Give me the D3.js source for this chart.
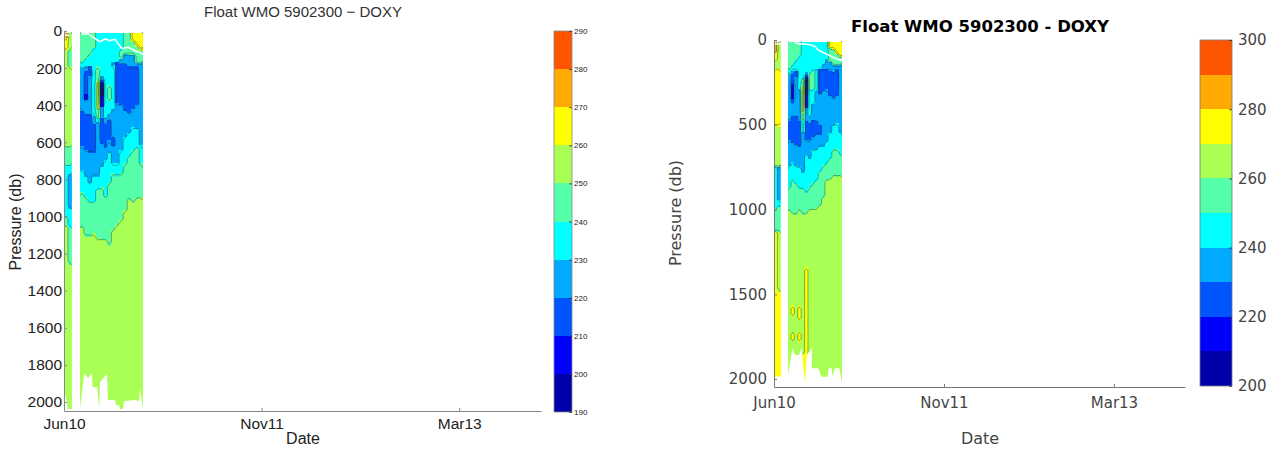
<!DOCTYPE html>
<html><head><meta charset="utf-8">
<script src="https://cdn.jsdelivr.net/npm/d3@7"></script>
<style>html,body{margin:0;background:#fff}svg{display:block}</style></head>
<body><svg id="c" width="1282" height="453"></svg>
<script>
const bandColors = ["#0000aa","#0000ff","#0055ff","#00aaff","#00ffff","#55ffaa","#aaff55","#ffff00","#ffaa00","#ff5500"];
const xTickDays = [0,500,1000];
const xTickLabels = ["Jun10","Nov11","Mar13"];
const blockStartDays = [0,40];

// Each profile: runs of [band mid value, bottom pressure]
const leftBlock1 = [
 [[275,40],[265,100],[255,620],[245,720],[235,1000],[245,1050],[255,2060]],
 [[255,100],[245,190],[255,620],[245,720],[235,770],[225,960],[235,1060],[245,1260],[255,2060]]
];
const leftBlock2 = [
 [[245,165],[235,200],[225,430],[215,620],[225,750],[235,867],[245,1062],[255,2060]],
 [[245,150],[235,190],[225,215],[215,340],[205,370],[225,450],[215,640],[225,786],[235,894],[245,1109],[255,2060]],
 [[245,130],[235,190],[215,240],[225,450],[215,660],[225,822],[235,921],[245,1109],[255,2060]],
 [[245,90],[235,460],[225,500],[215,660],[225,786],[235,921],[245,1091],[255,2060]],
 [[235,190],[245,270],[255,420],[245,470],[235,490],[225,786],[235,858],[245,1118],[255,2060]],
 [[235,245],[225,262],[215,275],[205,285],[195,350],[205,410],[225,470],[215,610],[225,732],[235,840],[245,1127],[255,2060]],
 [[235,470],[225,500],[215,630],[225,696],[235,894],[245,1127],[255,2060]],
 [[235,290],[245,380],[235,450],[225,480],[215,590],[225,660],[235,822],[245,1159],[255,2060]],
 [[235,165],[225,190],[235,420],[225,570],[215,620],[225,714],[235,768],[245,1073],[255,2060]],
 [[235,165],[215,390],[225,714],[235,786],[245,1046],[255,2060]],
 [[235,110],[245,150],[225,180],[215,400],[225,640],[235,768],[245,1019],[255,2060]],
 [[245,125],[225,180],[215,430],[225,570],[235,714],[245,966],[255,2060]],
 [[245,130],[225,190],[215,440],[225,552],[235,678],[245,912],[255,2060]],
 [[265,60],[245,130],[225,190],[215,420],[225,516],[235,640],[245,921],[255,2060]],
 [[265,85],[245,170],[225,190],[215,400],[225,530],[235,633],[245,903],[255,2060]],
 [[265,110],[245,170],[225,615],[235,714],[245,894],[255,2060]]
];
const rightBlock1 = [
 [[285,70],[275,130],[265,170],[275,511],[265,740],[245,990],[255,1130],[275,2060]],
 [[265,170],[275,511],[265,750],[235,944],[245,983],[255,1131],[265,1485],[275,2060]]
];
const rightBlock2 = [
 [[255,170],[245,200],[235,480],[225,590],[235,745],[245,865],[255,1010],[265,2060]],
 [[255,150],[245,180],[235,200],[225,260],[215,350],[225,370],[235,450],[225,610],[235,720],[245,826],[255,1020],[265,1563],[275,1622],[265,1735],[275,1765],[265,2060]],
 [[255,120],[245,180],[225,220],[235,450],[225,620],[235,745],[245,850],[255,1030],[265,2060]],
 [[255,90],[245,290],[235,480],[225,630],[235,750],[245,880],[255,1010],[265,1570],[275,1650],[265,1720],[275,1780],[265,1850],[275,2060]],
 [[245,230],[255,270],[265,430],[255,480],[245,540],[235,787],[245,880],[255,1030],[265,1850],[275,2060]],
 [[245,190],[235,205],[225,220],[215,235],[205,320],[215,400],[235,480],[225,590],[235,680],[245,900],[255,1020],[265,1340],[275,2060]],
 [[245,200],[255,290],[245,450],[235,490],[225,590],[235,700],[245,870],[255,1000],[265,2060]],
 [[245,180],[255,290],[245,380],[235,470],[225,570],[235,650],[245,845],[255,1000],[265,2060]],
 [[245,170],[235,180],[245,300],[235,480],[225,560],[235,650],[245,830],[255,990],[265,2060]],
 [[245,170],[225,320],[235,500],[225,560],[235,630],[245,780],[255,980],[265,2060]],
 [[245,140],[235,170],[225,300],[235,630],[245,740],[255,930],[265,2060]],
 [[245,115],[235,170],[225,290],[235,600],[245,730],[255,830],[265,2060]],
 [[275,50],[255,130],[235,180],[225,330],[235,550],[245,700],[255,820],[265,2060]],
 [[275,60],[255,150],[235,190],[225,340],[235,510],[245,650],[255,800],[265,2060]],
 [[275,80],[255,150],[235,170],[225,330],[235,490],[245,640],[255,810],[265,2060]],
 [[275,100],[255,150],[235,550],[245,680],[255,800],[265,2060]]
];
// Lower data limit of each block: [day, pressure]
const leftFloor1 = [[0,1920],[10,2038],[20,2038]];
const leftFloor2 = [[40,2043],[51,1844],[61,1871],[71,1844],[72,1919],[84,1919],[89,2038],[91,1892],[109,1849],[111,1989],[129,1989],[132,2016],[139,2016],[142,2038],[149,2038],[152,1995],[180,1989],[190,1995],[192,1925],[200,2038]];
const rightFloor1 = [[0,1985],[20,1985]];
const rightFloor2 = [[41,1977],[54,1819],[62,1859],[72,1859],[82,1819],[91,2026],[96,1859],[111,1819],[112,1937],[130,1937],[140,1986],[158,1986],[161,1937],[170,1937],[172,1986],[179,1937],[192,1937],[200,2022]];
// White surface lines: [day, pressure]
const leftSurface = [[45,16],[62,16],[74,34],[91,58],[104,43],[116,52],[129,45],[146,94],[163,88],[180,106],[201,126]];
const rightSurface = [[62,16],[76,24],[91,24],[106,28],[121,39],[130,59],[150,79],[170,98],[186,114],[200,118]];
const leftStripSurface = [[2,22],[14,24]];
const rightStripSurface = [[2,22],[18,24]];
const leftTop = 10, rightTop = 10;

const leftThresholds = d3.range(190,300,10);
const rightThresholds = d3.range(200,310,10);
const leftPressureTicks = d3.range(0,2200,200);
const rightPressureTicks = d3.range(0,2500,500);
const rightBarTicks = d3.range(200,320,20);

const svg = d3.select("#c");
const GRID = 25;

function panel(p, id){
  const g = svg.append("g");
  const x = d3.scaleLinear().domain([0,p.maxDay]).range(p.xr);
  const y = d3.scaleLinear().domain([0,2000]).range([p.yTop,p.y2000]);
  const bottomP = y.invert(p.yBottom);
  const col = d3.scaleThreshold().domain(p.thresholds.slice(1,-1)).range(bandColors);

  p.blocks.forEach((block,bi)=>{
    const start = blockStartDays[bi];
    const floor = p.floors[bi];
    const end = start + block.length*10;
    const cid = `clip${id}${bi}`;
    const poly = [[start,p.top],[end,p.top],...floor.slice().reverse()];
    g.append("clipPath").attr("id",cid).append("polygon")
      .attr("points",poly.map(d=>[x(d[0]),y(d[1])].join(",")).join(" "));
    const bg = g.append("g").attr("clip-path",`url(#${cid})`);
    block.forEach((runs,i)=>{
      let top = p.top;
      runs.forEach(([v,bot])=>{
        bg.append("rect")
          .attr("x",x(start+i*10)).attr("width",x(start+i*10+10)-x(start+i*10))
          .attr("y",y(top)).attr("height",y(bot)-y(top))
          .attr("fill",col(v)).attr("shape-rendering","crispEdges");
        top = bot;
      });
    });
    // contour lines from the same profiles, sampled on a pressure grid
    const rows = Math.ceil(2050/GRID), cols = block.length, vals = new Array(rows*cols);
    block.forEach((runs,i)=>{
      for(let r=0;r<rows;r++){
        const pr=(r+.5)*GRID;
        const run = runs.find(d=>pr<d[1]) || runs[runs.length-1];
        vals[r*cols+i]=run[0];
      }
    });
    const cont = d3.contours().size([cols,rows]).thresholds(p.thresholds.slice(1,-1))(vals);
    let d="";
    const edge=(a,b)=>(a[0]<=0&&b[0]<=0)||(a[0]>=cols&&b[0]>=cols)||(a[1]<=0&&b[1]<=0)||(a[1]>=rows&&b[1]>=rows);
    cont.forEach(c=>c.coordinates.forEach(poly=>poly.forEach(ring=>{
      ring.forEach((pt,k)=>{
        if(k===0) return;
        const a=ring[k-1];
        if(edge(a,pt)) return;
        d+=`M${x(start+a[0]*10)},${y(a[1]*GRID)}L${x(start+pt[0]*10)},${y(pt[1]*GRID)}`;
      });
    })));
    bg.append("path").attr("d",d).attr("fill","none").attr("stroke","#1c3a1c").attr("stroke-opacity",.6).attr("stroke-width",.7);
  });

  p.surfaces.forEach(s=>g.append("path").datum(s)
    .attr("d",d3.line().x(d=>x(d[0])).y(d=>y(d[1])))
    .attr("fill","none").attr("stroke","#fff").attr("stroke-width",1.6));

  // axes
  const yAxis = d3.axisLeft(d3.scaleLinear().domain([0,bottomP]).range([p.yTop,p.yBottom]))
    .tickValues(p.yTicks).tickSizeInner(-3).tickSizeOuter(0).tickPadding(p.pad).tickFormat(d3.format("d"));
  const xAxis = d3.axisBottom(x).tickValues(xTickDays).tickSizeInner(-3).tickSizeOuter(0).tickPadding(p.xPad)
    .tickFormat((d,i)=>xTickLabels[i]);
  const ya=g.append("g").attr("transform",`translate(${p.xr[0]},0)`).call(yAxis);
  const xa=g.append("g").attr("transform",`translate(0,${p.yBottom})`).call(xAxis);
  [ya,xa].forEach(a=>{
    a.selectAll("path,line").attr("stroke",p.axisColor).attr("stroke-width",1);
    a.selectAll("text").attr("fill",p.textColor).style("font",`${p.tickSize}px ${p.font}`);
  });
  g.append("text").attr("x",p.titleX).attr("y",p.titleY).attr("text-anchor","middle")
    .attr("fill",p.titleColor).style("font",`${p.titleWeight} ${p.titleSize}px ${p.font}`).text(p.title);
  g.append("text").attr("x",p.titleX).attr("y",p.dateY).attr("text-anchor","middle")
    .attr("fill",p.textColor).style("font",`${p.labelSize}px ${p.font}`).text("Date");
  g.append("text").attr("transform",`translate(${p.labelX},${p.labelCy}) rotate(-90)`).attr("text-anchor","middle")
    .attr("fill",p.textColor).style("font",`${p.labelSize}px ${p.font}`).text("Pressure (db)");

  // colorbar
  const cb = d3.scaleLinear().domain(d3.extent(p.thresholds)).range([p.barY[1],p.barY[0]]);
  p.thresholds.slice(0,-1).forEach((t,i)=>{
    g.append("rect").attr("x",p.barX[0]).attr("width",p.barX[1]-p.barX[0])
      .attr("y",cb(t+10)).attr("height",cb(t)-cb(t+10)).attr("fill",bandColors[i]).attr("shape-rendering","crispEdges");
  });
  g.append("rect").attr("x",p.barX[0]).attr("y",p.barY[0]).attr("width",p.barX[1]-p.barX[0]).attr("height",p.barY[1]-p.barY[0])
    .attr("fill","none").attr("stroke",p.axisColor).attr("stroke-width",.8);
  const ca = d3.axisRight(cb).tickValues(p.barTicks).tickSizeInner(-3).tickSizeOuter(0).tickPadding(p.barPad).tickFormat(d3.format("d"));
  const cag=g.append("g").attr("transform",`translate(${p.barX[1]},0)`).call(ca);
  cag.select("path").remove();
  cag.selectAll("line").attr("stroke","#333").attr("stroke-width",.8);
  cag.selectAll("text").attr("fill",p.textColor).style("font",`${p.barFont}px ${p.font}`);
}

panel({
  maxDay:1207,xr:[64,541],yTop:31,y2000:402,yBottom:411,top:leftTop,
  blocks:[leftBlock1,leftBlock2],floors:[leftFloor1,leftFloor2],surfaces:[leftSurface,leftStripSurface],
  thresholds:leftThresholds,yTicks:leftPressureTicks,barTicks:leftThresholds,
  barX:[554,572],barY:[31,412],barFont:8,barPad:2,
  font:'"Liberation Sans",Arial,sans-serif',tickSize:15.5,labelSize:16,pad:2,xPad:7,
  axisColor:"#888",textColor:"#222",titleColor:"#333",titleWeight:"normal",titleSize:15,
  title:"Float WMO 5902300 \u2212 DOXY",titleX:303,titleY:17,dateY:444,labelX:21,labelCy:222
},"L");
panel({
  maxDay:1209,xr:[774,1185],yTop:40,y2000:379,yBottom:387,top:rightTop,
  blocks:[rightBlock1,rightBlock2],floors:[rightFloor1,rightFloor2],surfaces:[rightSurface,rightStripSurface],
  thresholds:rightThresholds,yTicks:rightPressureTicks,barTicks:rightBarTicks,
  barX:[1200,1232],barY:[40,386],barFont:15,barPad:6,
  font:'"DejaVu Sans",sans-serif',tickSize:15,labelSize:16,pad:7,xPad:10,
  axisColor:"#777",textColor:"#444",titleColor:"#000",titleWeight:"bold",titleSize:16.5,
  title:"Float WMO 5902300 - DOXY",titleX:980,titleY:32,dateY:444,labelX:681,labelCy:213
},"R");
</script></body></html>
